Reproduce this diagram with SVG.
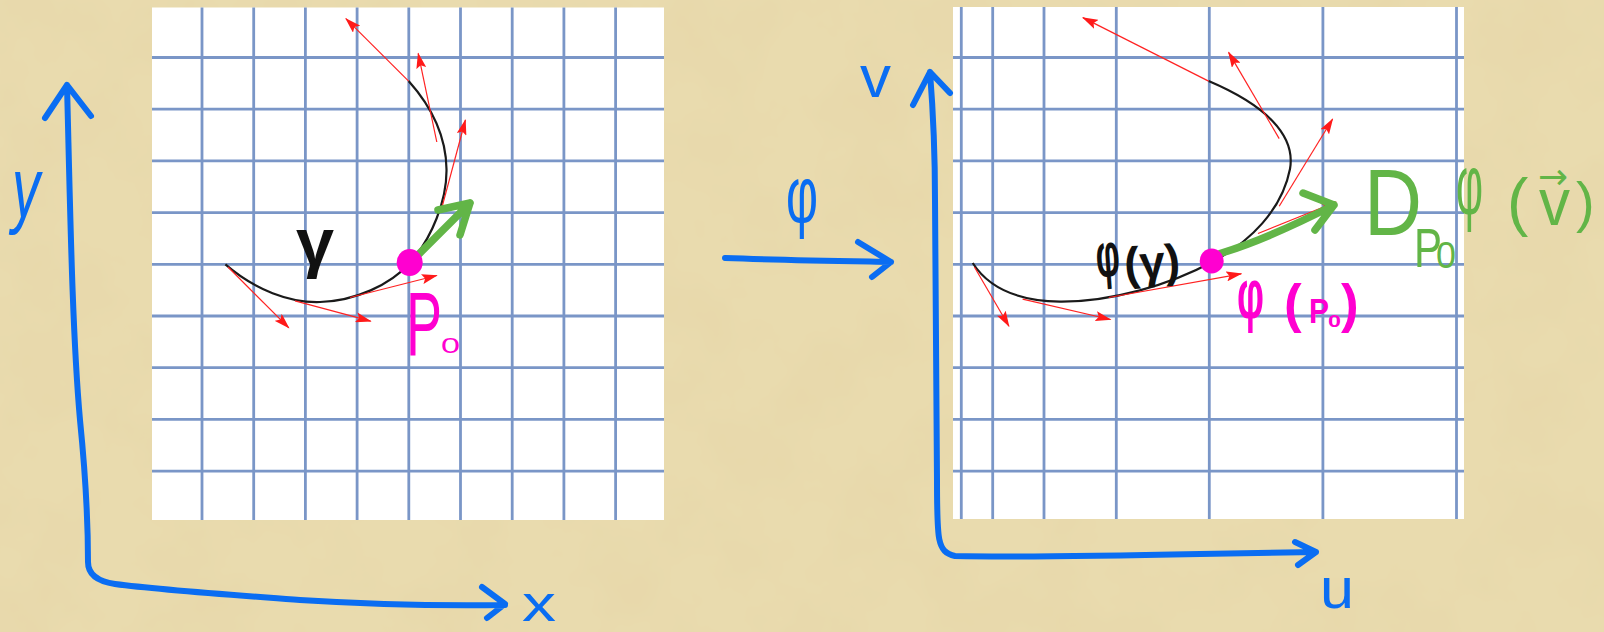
<svg xmlns="http://www.w3.org/2000/svg" width="1604" height="632" viewBox="0 0 1604 632">
<defs>
<style>
.grid line{stroke:#7a96c7;stroke-width:2.8}
.axis{fill:none;stroke:#0a6df2;stroke-width:6;stroke-linecap:round;stroke-linejoin:round}
.curve{fill:none;stroke:#1a1a1a;stroke-width:2.2}
.tan{stroke:#ff2222;stroke-width:1.2;marker-end:url(#rh)}
.vec{fill:none;stroke:#62b547;stroke-width:7.5;stroke-linecap:round;stroke-linejoin:round}
.lbl{font-family:"Liberation Sans",Arial,sans-serif}
.blue{fill:#0a6df2}
.mag{fill:#ff00d0}
.grn{fill:#62b547}
.blk{fill:#111}
</style>
<marker id="rh" markerUnits="userSpaceOnUse" viewBox="0 0 16 10" markerWidth="16" markerHeight="10" refX="15" refY="5" orient="auto">
<path d="M0,0 L16,5 L0,10 L3,5 z" fill="#ff1a1a"/>
</marker>
<filter id="tex" x="0" y="0" width="100%" height="100%">
<feTurbulence type="fractalNoise" baseFrequency="0.012" numOctaves="4" seed="7"/>
<feColorMatrix values="0 0 0 0 0.80  0 0 0 0 0.68  0 0 0 0 0.40  1.6 0 0 0 -0.58"/>
</filter>
</defs>
<g id="background">
<rect width="1604" height="632" fill="#e9dbae"/>
<rect width="1604" height="632" filter="url(#tex)"/>
</g>
<g id="left-plane">
<rect x="152" y="7.5" width="512" height="512.5" fill="#fff"/>
<g class="grid">
<line x1="202" y1="7.5" x2="202" y2="520"/><line x1="253.7" y1="7.5" x2="253.7" y2="520"/><line x1="305.4" y1="7.5" x2="305.4" y2="520"/><line x1="357.1" y1="7.5" x2="357.1" y2="520"/><line x1="408.8" y1="7.5" x2="408.8" y2="520"/><line x1="460.5" y1="7.5" x2="460.5" y2="520"/><line x1="512.2" y1="7.5" x2="512.2" y2="520"/><line x1="563.9" y1="7.5" x2="563.9" y2="520"/><line x1="615.6" y1="7.5" x2="615.6" y2="520"/>
<line x1="152" y1="57.5" x2="664" y2="57.5"/><line x1="152" y1="109.2" x2="664" y2="109.2"/><line x1="152" y1="160.9" x2="664" y2="160.9"/><line x1="152" y1="212.6" x2="664" y2="212.6"/><line x1="152" y1="264.3" x2="664" y2="264.3"/><line x1="152" y1="316" x2="664" y2="316"/><line x1="152" y1="367.7" x2="664" y2="367.7"/><line x1="152" y1="419.4" x2="664" y2="419.4"/><line x1="152" y1="471.1" x2="664" y2="471.1"/>
</g>
</g>
<g id="right-plane">
<rect x="953" y="7" width="511" height="512" fill="#fff"/>
<g class="grid">
<line x1="961.3" y1="7" x2="961.3" y2="519"/><line x1="992.7" y1="7" x2="992.7" y2="519"/><line x1="1044" y1="7" x2="1044" y2="519"/><line x1="1116.3" y1="7" x2="1116.3" y2="519"/><line x1="1209.3" y1="7" x2="1209.3" y2="519"/><line x1="1322.9" y1="7" x2="1322.9" y2="519"/><line x1="1456.5" y1="7" x2="1456.5" y2="519"/>
<line x1="953" y1="57.5" x2="1464" y2="57.5"/><line x1="953" y1="109.2" x2="1464" y2="109.2"/><line x1="953" y1="160.9" x2="1464" y2="160.9"/><line x1="953" y1="212.6" x2="1464" y2="212.6"/><line x1="953" y1="264.3" x2="1464" y2="264.3"/><line x1="953" y1="316" x2="1464" y2="316"/><line x1="953" y1="367.7" x2="1464" y2="367.7"/><line x1="953" y1="419.4" x2="1464" y2="419.4"/><line x1="953" y1="471.1" x2="1464" y2="471.1"/>
</g>
</g>
<g id="connectors">
<path id="axes-xy" class="axis" d="M67,85 C70,200 72,330 80,420 C86,480 88,520 88,562 Q88,580 115,584 C160,590 220,594 300,600 C380,605 440,606 505,605 M45,118 L67,85 L91,116 M482,587 L505,604 L487,618"/>
<path id="axes-uv" class="axis" d="M930,72 C933,110 935,150 935,200 L937,480 C937,540 937,552 955,556 C1000,557 1100,556 1200,554 L1316,552 M913,105 L930,72 L950,93 M1295,542 L1316,552 L1298,565"/>
<path id="map-arrow" class="axis" d="M725,258 C780,260 840,261 891,262 M858,242 L891,262 L872,277"/>
<path id="gamma" class="curve" d="M225.4,264.4 C255,290 290,303 320,302 C355,301 390,285 410,263 C432,238 447,200 446.5,169 C446,135 430,105 408.6,81.1"/>
<path id="phi-gamma" class="curve" d="M972.7,263 C990,290 1020,301 1060,301.6 C1110,302 1170,285 1212,262 C1250,242 1282,210 1290,169 C1296,135 1265,105 1208.6,81.1"/>
<g id="tangents-left">
<line class="tan" x1="228" y1="267" x2="288.8" y2="327.9"/>
<line class="tan" x1="295" y1="300.9" x2="370.7" y2="321.2"/>
<line class="tan" x1="350" y1="297.5" x2="436.8" y2="275.5"/>
<line class="tan" x1="442.3" y1="206.2" x2="465.4" y2="120"/>
<line class="tan" x1="436.8" y1="142" x2="418.2" y2="53.4"/>
<line class="tan" x1="408.6" y1="81.1" x2="345.9" y2="18.6"/>
</g>
<g id="tangents-right">
<line class="tan" x1="974.4" y1="267" x2="1008.9" y2="326.2"/>
<line class="tan" x1="1022.6" y1="299.2" x2="1110.5" y2="319.5"/>
<line class="tan" x1="1108.7" y1="297.5" x2="1241.3" y2="273.8"/>
<line class="tan" x1="1279.2" y1="206.2" x2="1332.6" y2="119"/>
<line class="tan" x1="1279.2" y1="138.6" x2="1228.6" y2="52.4"/>
<line class="tan" x1="1208.6" y1="81.1" x2="1082.9" y2="17.6"/>
<line class="tan" x1="1258" y1="233.5" x2="1336" y2="202"/>
</g>
<path id="vector-v" class="vec" d="M418,255 L470,203 M438,210 L470,203 L460,235"/>
<path id="vector-dphi" class="vec" d="M1220,253.5 C1255,243 1295,225 1334,205 M1303,193 L1334,205 L1315,230"/>
</g>
<g id="point-p0"><ellipse cx="409.7" cy="262.5" rx="13" ry="13.5" fill="#ff00d0"/></g>
<g id="point-phi-p0"><ellipse cx="1211.7" cy="261" rx="12" ry="12.5" fill="#ff00d0"/></g>
<g id="labels" class="lbl">
<text class="blue" x="12" y="217" font-size="85" font-style="italic" textLength="28" lengthAdjust="spacingAndGlyphs">y</text>
<text class="blue" x="522" y="621" font-size="50" textLength="34" lengthAdjust="spacingAndGlyphs">x</text>
<text class="blue" x="860" y="97" font-size="60" textLength="31" lengthAdjust="spacingAndGlyphs">v</text>
<text class="blue" x="1320" y="608" font-size="58" textLength="34" lengthAdjust="spacingAndGlyphs">u</text>
<text class="blue" x="786" y="222" font-size="80" textLength="32" lengthAdjust="spacingAndGlyphs">φ</text>
<text class="blk" x="296" y="265" font-size="66" font-weight="bold" textLength="38" lengthAdjust="spacingAndGlyphs">γ</text>
<text class="mag" x="406" y="355"><tspan font-size="90" textLength="36" lengthAdjust="spacingAndGlyphs">P</tspan><tspan x="441" y="353" font-size="22" textLength="19" lengthAdjust="spacingAndGlyphs">0</tspan></text>
<text class="blk" font-weight="bold" transform="rotate(-4 1138 262)"><tspan x="1096" y="274" font-size="62" textLength="24" lengthAdjust="spacingAndGlyphs">φ</tspan><tspan x="1124" y="279" font-size="46" textLength="56" lengthAdjust="spacingAndGlyphs">(γ)</tspan></text>
<text class="mag" font-weight="bold"><tspan x="1237" y="318" font-size="71" textLength="27" lengthAdjust="spacingAndGlyphs">φ</tspan><tspan x="1284" y="322" font-size="53">(</tspan><tspan x="1309" y="323" font-size="35" textLength="20" lengthAdjust="spacingAndGlyphs">P</tspan><tspan x="1328" y="327" font-size="17" textLength="13" lengthAdjust="spacingAndGlyphs">0</tspan><tspan x="1341" y="322" font-size="53">)</tspan></text>
<text class="grn"><tspan x="1364" y="235" font-size="95" textLength="58" lengthAdjust="spacingAndGlyphs">D</tspan><tspan x="1414" y="267" font-size="56" textLength="28" lengthAdjust="spacingAndGlyphs">P</tspan><tspan x="1436" y="268" font-size="37" textLength="20" lengthAdjust="spacingAndGlyphs">0</tspan><tspan x="1456" y="214" font-size="85" textLength="27" lengthAdjust="spacingAndGlyphs">φ</tspan><tspan x="1507" y="224" font-size="64">(</tspan><tspan x="1538" y="189" font-size="36" font-family="DejaVu Sans" textLength="30" lengthAdjust="spacingAndGlyphs">→</tspan><tspan x="1539" y="225" font-size="66" textLength="31" lengthAdjust="spacingAndGlyphs">v</tspan><tspan x="1576" y="221" font-size="56">)</tspan></text>
</g>
</svg>
